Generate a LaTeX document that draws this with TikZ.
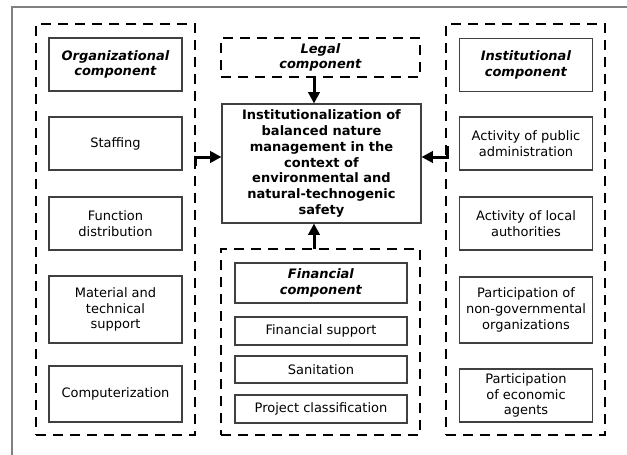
\documentclass[tikz,border=0pt]{standalone}
\usepackage{fontspec}
\setmainfont{DejaVu Sans}
\usetikzlibrary{arrows.meta}
\newcommand{\arw}{-{Triangle[length=4mm,width=4mm]}}
\newcommand{\hd}[1]{\textbf{\textit{#1}}}

\begin{document}
\begin{tikzpicture}[x=1pt,y=-1pt,
  font=\fontsize{13}{15.8}\selectfont,
  box/.style={draw=black!75,line width=1.1pt,align=center,inner sep=0pt},
  sidebox/.style={box,minimum width=133pt,minimum height=53pt},
  finbox/.style={box,minimum width=172pt,minimum height=28pt},
  grp/.style={draw,line width=2.8pt,dash pattern=on 10pt off 7pt,inner sep=0pt,align=center},
  link/.style={line width=3pt}]
\useasboundingbox (0,0) rectangle (627,455);
\clip (0,0) rectangle (627,455);
\draw[black!50,line width=2pt] (12,470) -- (12,7) -- (640,7);
%organizational
\node[grp,minimum width=159pt,minimum height=411pt] (orgs) at (115.5,229.5) {};
\node[sidebox] (org) at (115.5, 64.5) {\hd{Organizational}\\\hd{component}};
\node[sidebox] (staff) at (115.5,143.5) {Staffing};
\node[sidebox] (func) at (115.5,223.5) {Function\\distribution};
\node[sidebox,minimum height=67pt] (mat) at (115.5,309.5) {Material and\\technical\\support};
\node[sidebox,minimum height=56pt] (comp) at (115.5,394) {Computerization};
%institutional
\node[grp,minimum width=159pt,minimum height=411pt] (insts) at (525.5,229.5) {};
\node[sidebox] (inst) at (526, 65) {\hd{Institutional}\\\hd{component}};
\node[sidebox] (pub) at (526,143.5) {Activity of public\\administration};
\node[sidebox] (loc) at (526,223.5) {Activity of local\\authorities};
\node[sidebox,minimum height=66pt] (ngo) at (526,310) {Participation of\\non-governmental\\organizations};
\node[sidebox] (econ) at (526,395.5) {Participation\\of economic\\agents};
%centre
\node[box,minimum width=199pt,minimum height=119pt] (hub) at (321.5,163.5)
  {\textbf{Institutionalization of}\\\textbf{balanced nature}\\\textbf{management in the}\\\textbf{context of}\\\textbf{environmental and}\\\textbf{natural-technogenic}\\\textbf{safety}};
\node[grp,minimum width=199pt,minimum height=39pt] (legal) at (320.5,57.5) {\hd{Legal}\\\hd{component}};
%financial
\node[grp,minimum width=199pt,minimum height=186pt] (fins) at (320.5,342) {};
\node[finbox,minimum height=40pt] (fin) at (321,283) {\hd{Financial}\\\hd{component}};
\node[finbox] (fsup) at (321,331) {Financial support};
\node[finbox,minimum height=27pt] (san) at (321,369.5) {Sanitation};
\node[finbox] (proj) at (321,409) {Project classification};
%links
\coordinate (lg) at (314,77);
\coordinate (fn) at (314,249);
\coordinate (ol) at (195,166);
\coordinate (ir) at (447,146);
\draw[link,\arw] (lg) -- (lg |- hub.north);
\draw[link,\arw] (fn) -- (fn |- hub.south);
\draw[link,\arw] (ol) |- ([yshift=6.5pt]hub.west);
\draw[link,\arw] (ir) |- ([yshift=6.5pt]hub.east);
\end{tikzpicture}
\end{document}
